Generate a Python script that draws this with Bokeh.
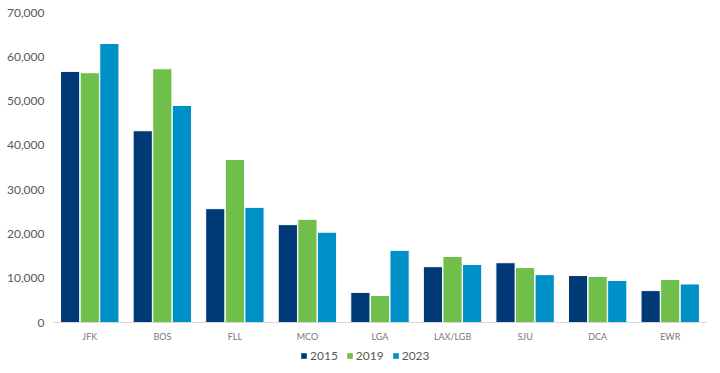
from bokeh.plotting import figure
from bokeh.layouts import column
from bokeh.models import (ColumnDataSource, FactorRange, Legend, LegendItem,
                          NumeralTickFormatter, FixedTicker, Range1d)
from bokeh.transform import dodge
from bokeh.embed import file_html
from bokeh.resources import INLINE

airports = ["JFK", "BOS", "FLL", "MCO", "LGA", "LAX/LGB", "SJU", "DCA", "EWR"]
years = ["2015", "2019", "2023"]
v2015 = [56700, 43300, 25700, 22100, 6800, 12600, 13500, 10600, 7200]
v2019 = [56400, 57300, 36800, 23300, 6100, 14900, 12400, 10400, 9700]
v2023 = [63000, 49000, 26000, 20400, 16300, 13100, 10800, 9500, 8700]
colors = ["#003A76", "#70BF4B", "#0090C8"]
y_ticks = [0, 10000, 20000, 30000, 40000, 50000, 60000, 70000]

src = ColumnDataSource(dict(airport=airports, v2015=v2015, v2019=v2019, v2023=v2023))

p = figure(x_range=FactorRange(*airports), y_range=(0, 70000),
           frame_width=653, frame_height=310,
           output_backend="svg", toolbar_location=None,
           min_border_left=53, min_border_right=6, min_border_top=12, min_border_bottom=23)

FONT = "Lato"
for i, (col, c) in enumerate(zip(["v2015", "v2019", "v2023"], colors)):
    p.vbar(x=dodge("airport", (i - 1) * 0.27, range=p.x_range), top=col, width=0.265,
           source=src, fill_color=c, line_color="white", line_width=1)

p.xgrid.grid_line_color = None
p.ygrid.grid_line_color = None
p.outline_line_color = None
p.x_range.range_padding = 0
p.x_range.group_padding = 0

p.yaxis.ticker = FixedTicker(ticks=y_ticks)
p.yaxis.formatter = NumeralTickFormatter(format="0,0")
p.yaxis.axis_line_color = None
p.yaxis.major_tick_line_color = None
p.yaxis.minor_tick_line_color = None
p.yaxis.major_tick_out = 0
p.yaxis.major_label_text_font = FONT
p.yaxis.major_label_text_font_size = "12px"
p.yaxis.major_label_text_color = "#595959"
p.yaxis.major_label_standoff = 9

p.xaxis.axis_line_color = "#D9D9D9"
p.xaxis.axis_line_width = 1
p.xaxis.major_tick_line_color = None
p.xaxis.minor_tick_line_color = None
p.xaxis.major_tick_out = 0
p.xaxis.major_label_text_font = FONT
p.xaxis.major_label_text_font_size = "9px"
p.xaxis.major_label_text_color = "#767676"
p.xaxis.major_label_standoff = 8

# legend strip below the chart (swatch renderers hold one bar outside the visible range)
lf = figure(width=712, height=28, x_range=Range1d(0, 1), y_range=Range1d(0, 1),
            x_axis_type=None, y_axis_type=None, output_backend="svg", toolbar_location=None,
            min_border=0, outline_line_color=None)
lf.xgrid.grid_line_color = None
lf.ygrid.grid_line_color = None
items = []
for y, c in zip(years, colors):
    r = lf.vbar(x=[-5], top=[-5], width=0.1, fill_color=c, line_color=None)
    items.append(LegendItem(label=y, renderers=[r]))
legend = Legend(items=items, orientation="horizontal", location=(247, 10),
                label_text_font=FONT, label_text_font_size="12px", label_text_color="#595959",
                glyph_width=7, glyph_height=7, label_height=14, label_standoff=3, spacing=8,
                border_line_color=None, background_fill_alpha=0, padding=2, margin=0)
lf.add_layout(legend, "center")

layout = column(p, lf, spacing=0)
open("out.html", "w").write(file_html(layout, INLINE))
